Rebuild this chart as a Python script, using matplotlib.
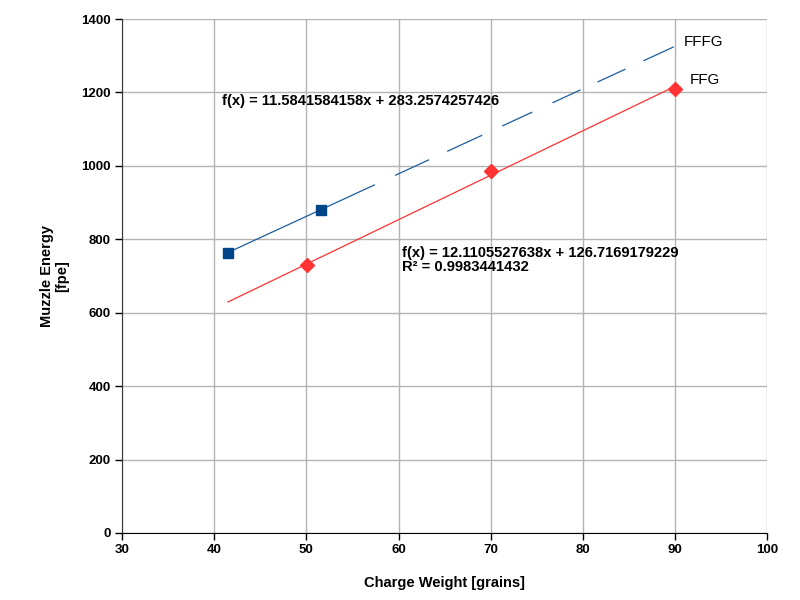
import matplotlib
matplotlib.use('Agg')
import matplotlib.pyplot as plt
import numpy as np

plt.rcParams['font.family'] = ['Liberation Sans', 'DejaVu Sans']
plt.rcParams['lines.scale_dashes'] = False

# measured points
fffg_x = [41.5, 51.6]
fffg_y = [764, 881]
ffg_x = [50.1, 70.0, 90.0]
ffg_y = [729, 986, 1210]

# trend line coefficients (as printed on the chart)
fffg_fit = (11.5841584158, 283.2574257426)
ffg_fit = (12.1105527638, 126.7169179229)
ffg_r2 = 0.9983441432

x_ticks = [30, 40, 50, 60, 70, 80, 90, 100]
y_ticks = [0, 200, 400, 600, 800, 1000, 1200, 1400]

blue = '#004586'
blue_line = '#1b5c9c'
red = '#ff3333'

fig = plt.figure(figsize=(8, 6), dpi=100)
ax = fig.add_axes([0.1525, 0.1117, 0.8065, 0.8566])

# trend lines over the whole data range
xmin = min(fffg_x + ffg_x)
xmax = max(fffg_x + ffg_x)
xt = np.array([xmin, xmax])
ax.plot(xt, fffg_fit[0] * xt + fffg_fit[1], color=blue_line, lw=0.9,
        dashes=[116.5, 16, 27, 14.3, 27.7, 16, 23.8, 16, 22.2, 13.5, 22.2, 14.3, 24, 10],
        zorder=3)
ax.plot(xt, ffg_fit[0] * xt + ffg_fit[1], color=red, lw=0.9, zorder=3)

ax.plot(fffg_x, fffg_y, linestyle='none', marker='s', markersize=7.5,
        color=blue, zorder=4)
ax.plot(ffg_x, ffg_y, linestyle='none', marker='D', markersize=7,
        color=red, zorder=4)

# equations
ax.text(40.85, 1177, 'f(x) = %.10fx + %.10f' % fffg_fit, fontsize=10.6,
        fontweight='bold', va='center', ha='left')
ax.text(60.4, 743, 'f(x) = %.10fx + %.10f\nR² = %.10f' % (ffg_fit + (ffg_r2,)),
        fontsize=10.6, fontweight='bold', va='center', ha='left', linespacing=0.95)

# series labels
ax.text(91.0, 1337, 'FFFG', fontsize=11, va='center', ha='left')
ax.text(91.6, 1233, 'FFG', fontsize=11, va='center', ha='left')

ax.set_xlim(30, 100)
ax.set_ylim(0, 1400)
ax.set_xticks(x_ticks)
ax.set_yticks(y_ticks)
ax.grid(True, color='#b3b3b3', lw=1.0)
ax.set_axisbelow(True)
for s in ['top', 'right']:
    ax.spines[s].set_visible(False)
ax.spines['left'].set_color('#333333')
ax.spines['bottom'].set_color('black')
ax.tick_params(direction='out', length=5, width=1, labelsize=9.5, pad=3)
for lab in ax.get_xticklabels() + ax.get_yticklabels():
    lab.set_fontweight('bold')

ax.set_xlabel('Charge Weight [grains]', fontsize=10.5, fontweight='bold', labelpad=14)
ax.set_ylabel('Muzzle Energy\n[fpe]', fontsize=10.5, fontweight='bold', labelpad=9,
              linespacing=1.1)

fig.savefig('out.png', dpi=100)
